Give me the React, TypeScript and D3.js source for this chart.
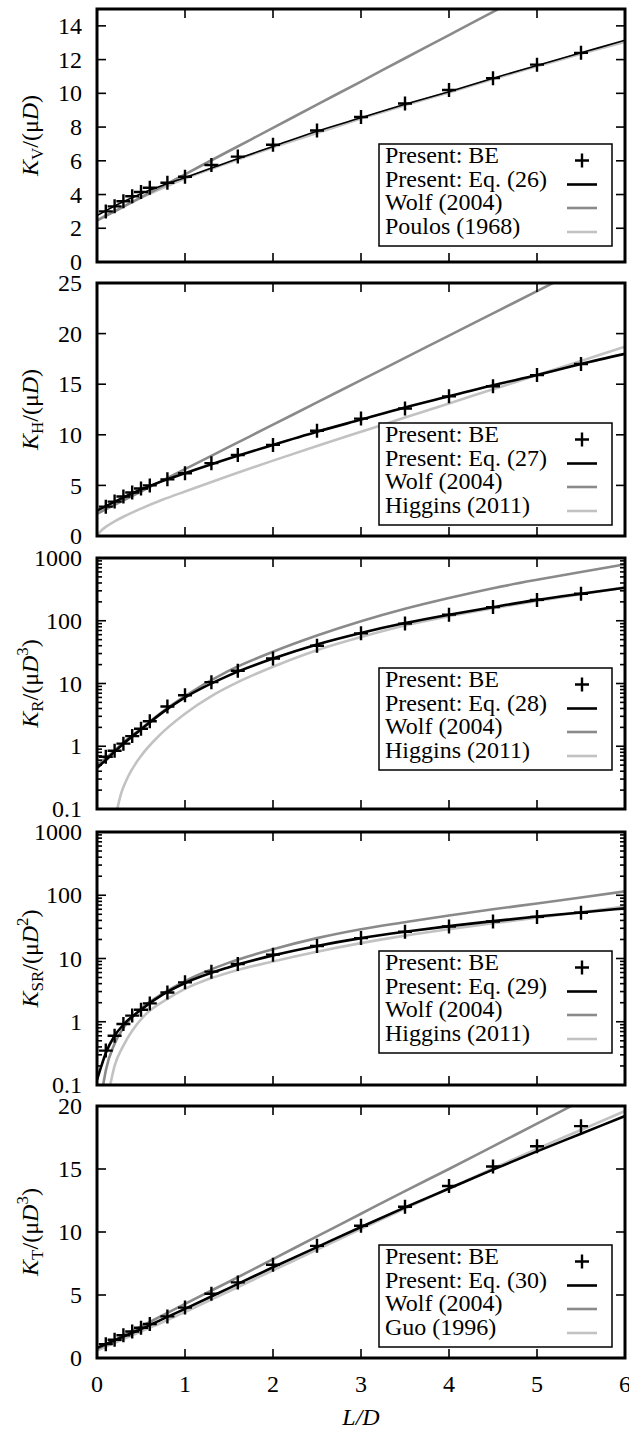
import * as d3 from "d3";

// L/D values where the boundary-element (BE) results were computed
const beX = [0.1, 0.2, 0.3, 0.4, 0.5, 0.6, 0.8, 1.0, 1.3, 1.6, 2.0, 2.5, 3.0, 3.5, 4.0, 4.5, 5.0, 5.5];
const gridX = [0, 0.25, 0.5, 0.75, 1, 1.5, 2, 2.5, 3, 3.5, 4, 4.5, 5, 5.5, 6];
const nearX = [0, 0.05, 0.1, 0.2, 0.3, 0.5, 0.75, 1, 1.5, 2, 2.5, 3, 3.5, 4, 4.5, 5, 5.5, 6];
const xTicks = [0, 1, 2, 3, 4, 5, 6];

// --- K_V ---
const kvBE = [3.0, 3.3, 3.6, 3.9, 4.15, 4.4, 4.7, 5.05, 5.75, 6.25, 6.95, 7.8, 8.6, 9.4, 10.2, 10.9, 11.7, 12.4];
const kvEq = [2.75, 3.45, 4.05, 4.55, 5.0, 5.95, 6.85, 7.75, 8.55, 9.35, 10.1, 10.9, 11.65, 12.4, 13.15];
const kvWolf = [2.45, 3.14, 3.83, 4.51, 5.2, 6.58, 7.95, 9.33, 10.7, 12.08, 13.45, 14.83, 16.2, 17.58, 18.95];
const kvPoulos = [2.5, 3.15, 3.8, 4.4, 4.95, 5.9, 6.8, 7.65, 8.5, 9.3, 10.05, 10.85, 11.6, 12.35, 13.05];
const kvTicks = [0, 2, 4, 6, 8, 10, 12, 14];

// --- K_H ---
const khBE = [2.9, 3.4, 3.9, 4.3, 4.7, 5.0, 5.6, 6.2, 7.2, 8.0, 9.0, 10.4, 11.6, 12.6, 13.8, 14.8, 15.9, 17.0];
const khEq = [2.5, 3.6, 4.6, 5.45, 6.2, 7.65, 9.0, 10.3, 11.5, 12.7, 13.8, 14.9, 15.9, 17.0, 18.0];
const khWolf = [2.2, 3.3, 4.4, 5.5, 6.6, 8.8, 11.0, 13.2, 15.4, 17.6, 19.8, 22.0, 24.2, 26.4, 28.6];
const khHiggins = [0, 0.55, 0.9, 1.45, 1.9, 2.7, 3.6, 4.4, 5.95, 7.45, 8.9, 10.3, 11.7, 13.1, 14.5, 15.9, 17.3, 18.7];
const khTicks = [0, 5, 10, 15, 20, 25];

// --- K_R ---
const krBE = [0.68, 0.85, 1.1, 1.45, 1.9, 2.5, 4.3, 6.5, 10.5, 16, 25, 40, 63, 90, 125, 165, 215, 270];
const krEq = [0.45, 0.52, 0.6, 0.82, 1.1, 1.85, 3.5, 6.0, 13.5, 25, 42, 64, 92, 125, 165, 215, 270, 335];
const krWolf = [0.5, 0.57, 0.65, 0.85, 1.15, 1.9, 3.6, 6.3, 16, 32, 58, 98, 155, 230, 330, 450, 600, 790];
const krHigginsX = [0.23, 0.27, 0.34, 0.5, 0.7, 1.0, 1.3, 1.6, 2, 2.5, 3, 3.5, 4, 4.5, 5, 5.5, 6];
const krHiggins = [0.1, 0.17, 0.3, 0.7, 1.45, 3.3, 6.3, 10.5, 18.5, 34, 55, 84, 118, 158, 207, 265, 340];

// --- K_SR ---
const ksrBE = [0.35, 0.6, 0.92, 1.25, 1.55, 1.95, 2.9, 4.2, 6.2, 8.2, 11.5, 15.8, 21, 26.5, 32, 38.5, 45.5, 53];
const ksrEq = [0.12, 0.2, 0.32, 0.6, 0.9, 1.55, 2.7, 4.1, 7.3, 11.2, 15.8, 21, 26.5, 32.5, 39, 46, 53.5, 62];
const ksrWolfX = [0.07, 0.1, 0.2, 0.3, 0.5, 0.75, 1, 1.5, 2, 2.5, 3, 3.5, 4, 4.5, 5, 5.5, 6];
const ksrWolf = [0.1, 0.17, 0.45, 0.8, 1.6, 2.8, 4.4, 8.6, 14, 21, 29, 37.5, 48, 60, 74, 92, 115];
const ksrHigginsX = [0.15, 0.2, 0.3, 0.4, 0.55, 0.8, 1.0, 1.3, 1.6, 2, 2.5, 3, 3.5, 4, 4.5, 5, 5.5, 6];
const ksrHiggins = [0.1, 0.2, 0.42, 0.72, 1.3, 2.3, 3.3, 4.9, 6.6, 9.0, 12.8, 17.5, 23, 29, 36, 44, 54, 66];
const logTicks = [0.1, 1, 10, 100, 1000];

// --- K_T ---
const ktBE = [1.1, 1.45, 1.8, 2.1, 2.4, 2.7, 3.3, 4.0, 5.1, 6.0, 7.4, 8.9, 10.5, 12.0, 13.65, 15.2, 16.8, 18.4];
const ktEq = [0.8, 1.55, 2.3, 3.1, 3.9, 5.55, 7.2, 8.8, 10.4, 11.95, 13.45, 14.95, 16.4, 17.8, 19.2];
const ktWolf = [0.7, 1.6, 2.5, 3.4, 4.3, 6.05, 7.85, 9.65, 11.45, 13.25, 15.0, 16.8, 18.6, 20.4, 22.2];
const ktGuo = [0.6, 1.35, 2.1, 2.85, 3.65, 5.3, 6.95, 8.6, 10.25, 11.85, 13.45, 15.05, 16.6, 18.1, 19.6];
const ktTicks = [0, 5, 10, 15, 20];

const eqLabels = ["Present: Eq. (26)", "Present: Eq. (27)", "Present: Eq. (28)", "Present: Eq. (29)", "Present: Eq. (30)"];
const refLabels = ["Poulos (1968)", "Higgins (2011)", "Higgins (2011)", "Higgins (2011)", "Guo (1996)"];

const FONT = '"Liberation Serif", "Times New Roman", Times, serif';
const FS = 24;
const WOLF = "#8a8a8a";
const LIGHT = "#c2c2c2";
const X0 = 97;
const X1 = 625;

type Series = { xs: number[]; ys: number[] };
type Panel = {
  top: number;
  bottom: number;
  log: boolean;
  domain: [number, number];
  ticks: number[];
  sub: string;
  pow: string;
  be: number[];
  eq: Series;
  wolf: Series;
  ref: Series;
  eqLabel: string;
  refLabel: string;
  legendTop: number;
  eqWidth: number;
};

const panels: Panel[] = [
  { top: 9, bottom: 262, log: false, domain: [0, 15], ticks: kvTicks, sub: "V", pow: "", be: kvBE,
    eq: { xs: gridX, ys: kvEq }, wolf: { xs: gridX, ys: kvWolf }, ref: { xs: gridX, ys: kvPoulos },
    eqLabel: eqLabels[0], refLabel: refLabels[0], legendTop: 144, eqWidth: 1.6 },
  { top: 283, bottom: 536, log: false, domain: [0, 25], ticks: khTicks, sub: "H", pow: "", be: khBE,
    eq: { xs: gridX, ys: khEq }, wolf: { xs: gridX, ys: khWolf }, ref: { xs: nearX, ys: khHiggins },
    eqLabel: eqLabels[1], refLabel: refLabels[1], legendTop: 423, eqWidth: 2.6 },
  { top: 558, bottom: 809, log: true, domain: [0.1, 1000], ticks: logTicks, sub: "R", pow: "3", be: krBE,
    eq: { xs: nearX, ys: krEq }, wolf: { xs: nearX, ys: krWolf }, ref: { xs: krHigginsX, ys: krHiggins },
    eqLabel: eqLabels[2], refLabel: refLabels[2], legendTop: 668, eqWidth: 2.6 },
  { top: 832, bottom: 1085, log: true, domain: [0.1, 1000], ticks: logTicks, sub: "SR", pow: "2", be: ksrBE,
    eq: { xs: nearX, ys: ksrEq }, wolf: { xs: ksrWolfX, ys: ksrWolf }, ref: { xs: ksrHigginsX, ys: ksrHiggins },
    eqLabel: eqLabels[3], refLabel: refLabels[3], legendTop: 951, eqWidth: 2.6 },
  { top: 1106, bottom: 1358, log: false, domain: [0, 20], ticks: ktTicks, sub: "T", pow: "3", be: ktBE,
    eq: { xs: gridX, ys: ktEq }, wolf: { xs: gridX, ys: ktWolf }, ref: { xs: gridX, ys: ktGuo },
    eqLabel: eqLabels[4], refLabel: refLabels[4], legendTop: 1245, eqWidth: 2.6 },
];

const x = d3.scaleLinear().domain([0, 6]).range([X0, X1]);

function PanelView({ p, i, last }: { p: Panel; i: number; last: boolean }) {
  const y = p.log
    ? d3.scaleLog().domain(p.domain).range([p.bottom, p.top])
    : d3.scaleLinear().domain(p.domain).range([p.bottom, p.top]);
  const line = (s: Series) =>
    d3
      .line<number>()
      .x((_, k) => x(s.xs[k]))
      .y((v) => y(v))
      .curve(d3.curveMonotoneX)(s.ys) || "";

  // minor ticks for the log axes
  const minor: number[] = [];
  if (p.log) {
    [0.1, 1, 10, 100].forEach((d) => {
      for (let k = 2; k <= 9; k++) minor.push(d * k);
    });
  }
  const clipId = `clip${i}`;
  const cy = (p.top + p.bottom) / 2;
  const lt = p.legendTop;
  const rows = [lt + 18.5, lt + 42.5, lt + 66, lt + 90];

  return (
    <g>
      <defs>
        <clipPath id={clipId}>
          <rect x={X0} y={p.top} width={X1 - X0} height={p.bottom - p.top} />
        </clipPath>
      </defs>
      <g clipPath={`url(#${clipId})`} fill="none" strokeLinejoin="round">
        <path d={line(p.ref)} stroke={LIGHT} strokeWidth={2.6} />
        <path d={line(p.wolf)} stroke={WOLF} strokeWidth={2.6} />
        <path d={line(p.eq)} stroke="#000" strokeWidth={p.eqWidth} />
        {p.be.map((v, k) => (
          <path
            key={k}
            d={`M${x(beX[k]) - 7},${y(v)}h14M${x(beX[k])},${y(v) - 7}v14`}
            stroke="#000"
            strokeWidth={2.4}
          />
        ))}
      </g>
      <g stroke="#000" strokeWidth={1.6}>
        {xTicks.map((t) => (
          <g key={t}>
            <line x1={x(t)} x2={x(t)} y1={p.bottom} y2={p.bottom - 9} />
            <line x1={x(t)} x2={x(t)} y1={p.top} y2={p.top + 9} />
          </g>
        ))}
        {p.ticks.map((t) => (
          <g key={t}>
            <line x1={X0} x2={X0 + 9} y1={y(t)} y2={y(t)} />
            <line x1={X1} x2={X1 - 9} y1={y(t)} y2={y(t)} />
          </g>
        ))}
        {minor.map((t) => (
          <g key={"m" + t}>
            <line x1={X0} x2={X0 + 5} y1={y(t)} y2={y(t)} />
            <line x1={X1} x2={X1 - 5} y1={y(t)} y2={y(t)} />
          </g>
        ))}
      </g>
      <rect x={X0} y={p.top} width={X1 - X0} height={p.bottom - p.top} fill="none" stroke="#000" strokeWidth={3} />
      <g fontSize={FS} textAnchor="end">
        {p.ticks.map((t) => (
          <text key={t} x={82} y={y(t)} dy="0.34em">
            {String(t)}
          </text>
        ))}
      </g>
      {last && (
        <g fontSize={FS} textAnchor="middle">
          {xTicks.map((t) => (
            <text key={t} x={x(t)} y={1392}>
              {t}
            </text>
          ))}
          <text x={(X0 + X1) / 2} y={1425} fontStyle="italic">
            L/D
          </text>
        </g>
      )}
      <text transform={`translate(38,${cy}) rotate(-90)`} fontSize={FS} textAnchor="middle">
        <tspan fontStyle="italic">K</tspan>
        <tspan fontSize={17} dy={5}>{p.sub}</tspan>
        <tspan dy={-5}>/(μ</tspan>
        <tspan fontStyle="italic">D</tspan>
        {p.pow && (
          <tspan fontSize={17} dy={-10}>
            {p.pow}
          </tspan>
        )}
        <tspan dy={p.pow ? 10 : 0}>)</tspan>
      </text>
      <rect x={379} y={lt} width={233} height={102} fill="#fff" stroke="#000" strokeWidth={1.5} />
      <g fontSize={FS}>
        <text x={385} y={rows[0]}>Present: BE</text>
        <text x={385} y={rows[1]}>{p.eqLabel}</text>
        <text x={385} y={rows[2]}>Wolf (2004)</text>
        <text x={385} y={rows[3]}>{p.refLabel}</text>
      </g>
      <path d={`M575,${rows[0] - 2}h14M582,${rows[0] - 9}v14`} stroke="#000" strokeWidth={2.4} />
      <line x1={567} x2={597} y1={rows[1] - 2} y2={rows[1] - 2} stroke="#000" strokeWidth={2.6} />
      <line x1={567} x2={597} y1={rows[2] - 2} y2={rows[2] - 2} stroke={WOLF} strokeWidth={2.6} />
      <line x1={567} x2={597} y1={rows[3] - 2} y2={rows[3] - 2} stroke={LIGHT} strokeWidth={2.6} />
    </g>
  );
}

export default function App() {
  return (
    <svg
      width={629}
      height={1431}
      style={{ position: "absolute", left: 0, top: 0, background: "#fff", fontFamily: FONT }}
    >
      {panels.map((p, i) => (
        <PanelView key={i} p={p} i={i} last={i === panels.length - 1} />
      ))}
    </svg>
  );
}
